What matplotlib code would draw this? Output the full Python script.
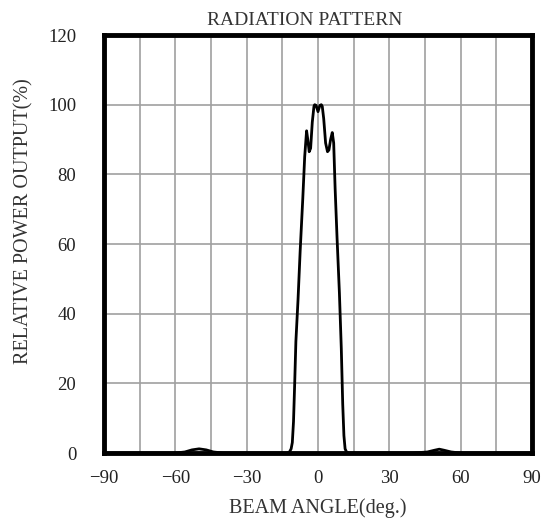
import numpy as np
import matplotlib
matplotlib.use('Agg')
import matplotlib.pyplot as plt

plt.rcParams['font.family'] = ['Liberation Serif', 'DejaVu Serif']

# beam angle (deg) and relative power (%)
angle = [-90, -60, -56, -53, -50, -47, -44, -40, -20, -13, -12, -11.3, -10.8,
         -10.3, -9.8, -9.3, -8.4, -7.5, -6.4, -5.6, -4.8, -4.3, -3.7, -3.1,
         -2.4, -1.7, -1.4, -0.8, 0, 0.8, 1.4, 1.8, 2.4, 3.2, 4.0, 4.6, 5.3,
         6.0, 6.6, 7.2, 8.0, 9.0, 9.8, 10.4, 10.9, 11.4, 12, 13, 20, 40, 46,
         49, 51, 53, 56, 60, 90]
power = [0, 0, 0.3, 0.9, 1.2, 0.9, 0.3, 0, 0, 0, 0.3, 1.2, 3,
         9, 20, 32, 44, 58, 73, 85, 92.5, 90, 86.5, 87.5,
         95, 99.5, 100, 99.8, 98, 99.8, 100, 99.5, 96, 89, 86.5, 87, 90,
         92, 89, 76, 62, 46, 30, 14, 5, 1.2, 0.3, 0, 0, 0, 0.3,
         0.8, 1.1, 0.8, 0.3, 0, 0]

xticks = [-90, -60, -30, 0, 30, 60, 90]
yticks = [0, 20, 40, 60, 80, 100, 120]

fig = plt.figure(figsize=(5.54, 5.25), dpi=100)
ax = fig.add_axes([0.1877, 0.1371, 0.7726, 0.7962])

ax.plot(angle, power, color='black', linewidth=2.0, zorder=3)

ax.set_xlim(-90, 90)
ax.set_ylim(0, 120)
ax.set_xticks(np.arange(-90, 91, 15), minor=True)
ax.set_xticks(xticks)
ax.set_xticklabels(['\u221290', '\u221260', '\u221230', '0', '30', '60', '90'])
ax.set_yticks(yticks)
ax.grid(True, which='both', axis='x', color='#a0a0a0', linewidth=1.2)
ax.grid(True, which='major', axis='y', color='#a0a0a0', linewidth=1.2)
ax.tick_params(which='both', length=0, labelsize=13.5, colors='#222222')
ax.tick_params(axis='x', pad=12)
ax.tick_params(axis='y', pad=20)

for s in ax.spines.values():
    s.set_linewidth(3.5)
    s.set_color('black')
    s.set_zorder(5)

ax.set_title('RADIATION PATTERN', fontsize=14, color='#333333', pad=7, x=0.47)
ax.set_xlabel('BEAM ANGLE(deg.)', fontsize=14.5, color='#333333', labelpad=8)
ax.set_ylabel('RELATIVE POWER OUTPUT(%)', fontsize=14.5, color='#333333')
ax.yaxis.set_label_coords(-0.165, 0.555)

fig.savefig('out.png', dpi=100)
